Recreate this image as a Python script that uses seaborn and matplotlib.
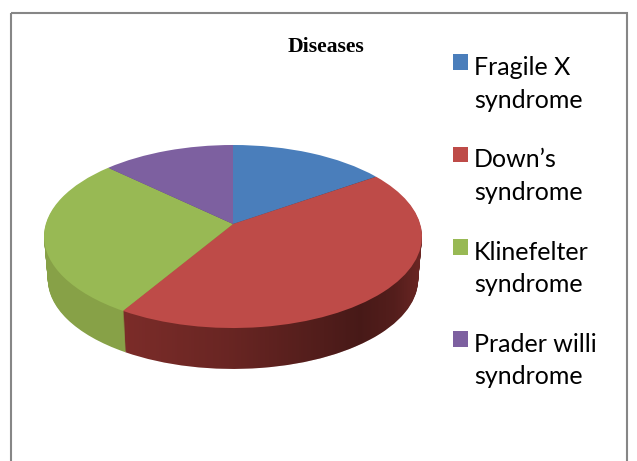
import numpy as np
import matplotlib
matplotlib.use("Agg")
import matplotlib.pyplot as plt
import seaborn as sns
from matplotlib.patches import Rectangle
from matplotlib.path import Path
from matplotlib.transforms import Transform

# values (percent of the circle)
diseases = ["Fragile X\nsyndrome", "Down\u2019s\nsyndrome", "Klinefelter\nsyndrome", "Prader willi\nsyndrome"]
shares = [15.4, 43.3, 28.3, 13.0]
top_colors = ["#4a7ebb", "#be4b48", "#98b954", "#7d60a0"]
wall_colors = ["#3a6494", "#7b2c29", "#8ba64a", "#5f4a7c"]
title_text = "Diseases"

sns.set_theme(style="white")

# pie seen from above: near edge looks bigger than far edge
class TiltedPie(Transform):
    input_dims = 2
    output_dims = 2
    is_separable = False
    has_inverse = False

    def __init__(self, drop=0.0, shrink=1.0):
        super().__init__()
        self.drop = drop
        self.shrink = shrink

    def transform_non_affine(self, values):
        values = np.asarray(values, dtype=float)
        w = 1 + 0.1366 * values[:, 1]
        px = 233 + self.shrink * 187.2 * values[:, 0] / w
        py = 224 + self.drop - self.shrink * 89.8 * values[:, 1] / w
        return np.column_stack([px, py])

    def transform_path_non_affine(self, path):
        return Path(self.transform_non_affine(path.vertices), path.codes)


fig = plt.figure(figsize=(6.37, 4.61), dpi=100)
fig.patch.set_facecolor("white")
ax = fig.add_axes([0, 0, 1, 1])

# side wall, built up from stacked pies
depth = 43
for d in range(depth, 0, -1):
    layer, _ = ax.pie(shares, colors=wall_colors, startangle=90, counterclock=False)
    for w in layer:
        w.set_transform(TiltedPie(d, 1 - 0.02 * d / depth) + ax.transData)
        w.set_zorder(1)
        w.set_linewidth(0)

# shading on the wall, darkest toward the right
xs = np.linspace(0, 637, 320)
alpha = np.interp(xs, [0, 122, 125, 230, 360, 395, 425, 637], [0.03, 0.03, 0.0, 0.15, 0.42, 0.32, 0.1, 0.1])
shade = np.zeros((1, xs.size, 4))
shade[0, :, 3] = alpha
im = ax.imshow(shade, extent=[0, 637, 461, 0], zorder=2, aspect="auto")
hull = Path.make_compound_path(*[
    TiltedPie(d, 1 - 0.02 * d / depth).transform_path_non_affine(Path.unit_circle())
    for d in range(1, depth + 1)
])
im.set_clip_path(hull, ax.transData)

# top face
wedges, _ = ax.pie(shares, colors=top_colors, startangle=90, counterclock=False)
for w in wedges:
    w.set_transform(TiltedPie() + ax.transData)
    w.set_zorder(3)
    w.set_linewidth(0)

ax.set_aspect("auto")
ax.set_xlim(0, 637)
ax.set_ylim(461, 0)
ax.axis("off")

# chart frame, bottom edge is cut off by the image
ax.add_patch(Rectangle((11, 13), 616, 470, fill=False, edgecolor="#868686", linewidth=1.5, zorder=5))

ax.text(326, 46.5, title_text, family="Liberation Serif", weight="bold", fontsize=15.6,
        ha="center", va="center", color="black", zorder=6)

leg = ax.legend(wedges, diseases, loc="upper left", bbox_to_anchor=(453 / 637, 1 - 56 / 461),
                frameon=False, prop={"family": "Lato", "size": 18}, labelspacing=1.47,
                handlelength=0.6, handleheight=0.6, handletextpad=0.24, borderpad=0, borderaxespad=0)
for t in leg.get_texts():
    t.set_color("black")
    t.set_linespacing(1.5)
# squares sit beside the first line of each label
for patch in leg.get_patches():
    patch.set_y(patch.get_y() + 16)

fig.savefig("out.png", dpi=100)
